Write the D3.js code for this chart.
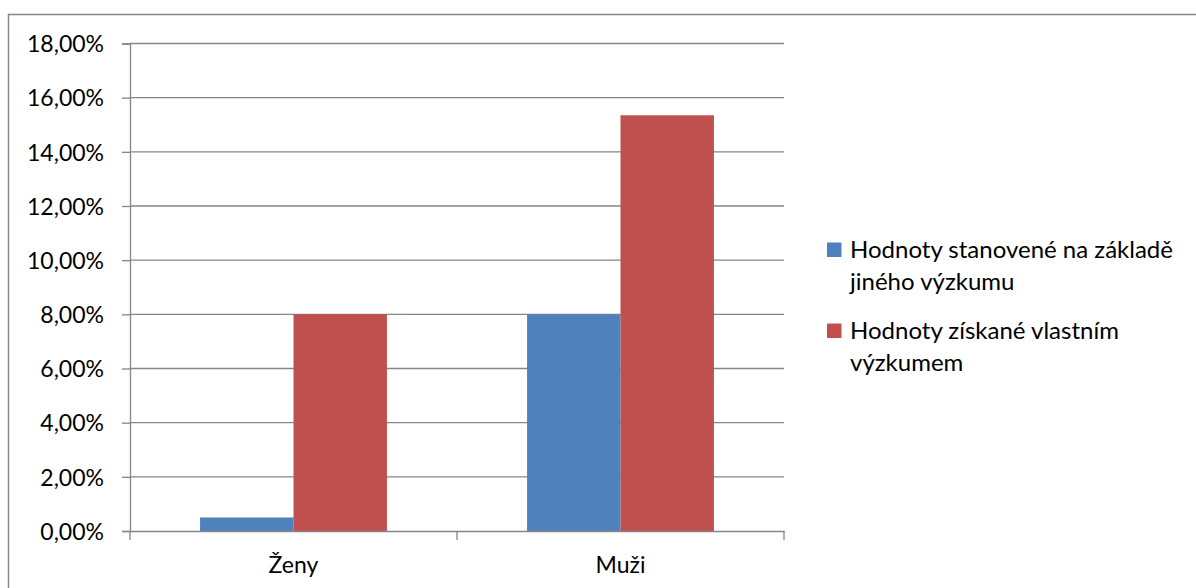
<!DOCTYPE html>
<html>
<head>
<meta charset="utf-8">
<script src="https://cdn.jsdelivr.net/npm/d3@7"></script>
<style>
  html, body { margin: 0; padding: 0; background: #fff; }
  svg text { font-family: Lato, "Open Sans", sans-serif; fill: #000; }
</style>
</head>
<body>
<svg id="chart" width="1196" height="588"></svg>
<script>
// Categories and series
const categories = ["Ženy", "Muži"];
const seriesNames = [
  "Hodnoty stanovené na základě jiného výzkumu",
  "Hodnoty získané vlastním výzkumem"
];
const seriesColors = ["#4F81BD", "#C0504D"];
const valuesJiny = [0.005, 0.08];      // Hodnoty stanovené na základě jiného výzkumu
const valuesVlastni = [0.08, 0.1535];  // Hodnoty získané vlastním výzkumem
const yTicks = [0, 0.02, 0.04, 0.06, 0.08, 0.10, 0.12, 0.14, 0.16, 0.18];
const legendLines = [
  ["Hodnoty stanovené na základě", "jiného výzkumu"],
  ["Hodnoty získané vlastním", "výzkumem"]
];

const series = [valuesJiny, valuesVlastni];
const svg = d3.select("#chart");

// Outer frame
svg.append("rect")
  .attr("x", 8.5).attr("y", 14.5)
  .attr("width", 1200).attr("height", 600)
  .attr("fill", "none").attr("stroke", "#868686").attr("stroke-width", 1.5);

const plot = { left: 130, right: 784, top: 43.5, bottom: 531 };

const y = d3.scaleLinear().domain([0, 0.18]).range([plot.bottom, plot.top]);
const x0 = d3.scaleBand().domain(categories).range([plot.left, plot.right]).padding(0);
const x1 = d3.scaleBand().domain(d3.range(series.length))
  .range([0, x0.bandwidth()]).paddingInner(0).paddingOuter(0.75);

const fmt = v => d3.format(".2f")(v * 100).replace(".", ",") + "%";

// Horizontal gridlines
svg.append("g").selectAll("line")
  .data(yTicks.filter(t => t > 0))
  .join("line")
  .attr("x1", plot.left).attr("x2", plot.right)
  .attr("y1", d => y(d)).attr("y2", d => y(d))
  .attr("stroke", "#868686").attr("stroke-width", 1.3);

// Bars
const groups = svg.append("g").selectAll("g")
  .data(categories)
  .join("g")
  .attr("transform", d => `translate(${x0(d)},0)`);

groups.selectAll("rect")
  .data((d, i) => series.map((s, k) => ({ k, v: s[i] })))
  .join("rect")
  .attr("x", d => x1(d.k))
  .attr("width", x1.bandwidth())
  .attr("y", d => y(d.v))
  .attr("height", d => y(0) - y(d.v))
  .attr("fill", d => seriesColors[d.k]);

// Y axis
const yAxis = d3.axisLeft(y).tickValues(yTicks).tickFormat(fmt).tickSizeOuter(0).tickSize(8).tickPadding(18);
const gy = svg.append("g").attr("transform", `translate(${plot.left},0)`).call(yAxis);
gy.select(".domain").attr("stroke", "#868686").attr("stroke-width", 1.3);
gy.selectAll(".tick line").attr("stroke", "#868686").attr("stroke-width", 1.3);
gy.selectAll(".tick text").style("font-size", "23px").attr("dy", "0.36em").attr("fill", "#000");

// X axis
const gx = svg.append("g").attr("transform", `translate(0,${plot.bottom})`)
  .call(d3.axisBottom(x0).tickSize(0).tickPadding(0));
gx.select(".domain").attr("stroke", "#868686").attr("stroke-width", 1.3);
gx.selectAll(".tick text").attr("y", 42).attr("dy", 0).style("font-size", "23px").attr("fill", "#000");
// Category divider ticks
gx.append("g").selectAll("line")
  .data([plot.left, ...categories.map(c => x0(c) + x0.bandwidth())])
  .join("line")
  .attr("x1", d => d).attr("x2", d => d)
  .attr("y1", 0).attr("y2", 9)
  .attr("stroke", "#868686").attr("stroke-width", 1.3);

// Legend
const legend = svg.append("g").attr("transform", "translate(827,0)");
const legendTop = [242.5, 323.5];
legendLines.forEach((lines, i) => {
  legend.append("rect")
    .attr("x", 0).attr("y", legendTop[i])
    .attr("width", 14.5).attr("height", 14.5)
    .attr("fill", seriesColors[i]);
  const t = legend.append("text")
    .attr("x", 23).attr("y", legendTop[i] + 15.5)
    .style("font-size", "24px");
  lines.forEach((ln, j) => {
    t.append("tspan").attr("x", 23).attr("dy", j === 0 ? 0 : 32).text(ln);
  });
});
</script>
</body>
</html>
